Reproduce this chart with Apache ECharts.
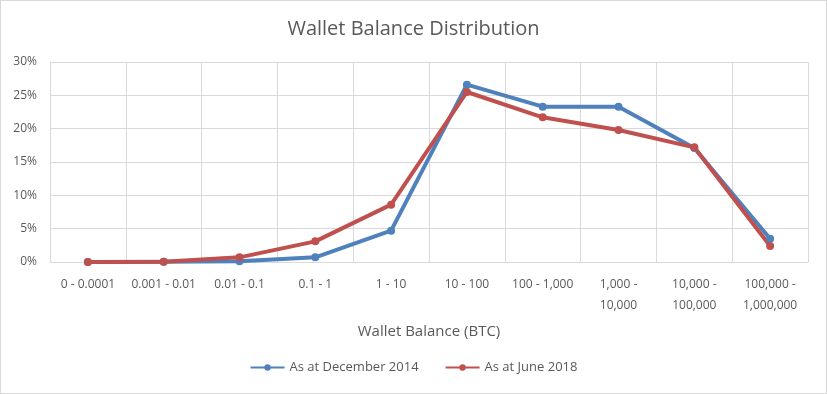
<!DOCTYPE html>
<html><head><meta charset="utf-8">
<script src="https://cdn.jsdelivr.net/npm/echarts@6/dist/echarts.min.js"></script>
<style>html,body{margin:0;padding:0;background:#fff}#c{width:825px;height:392px;border:1px solid #d9d9d9}</style>
</head><body><div id="c"></div>
<script>
const categories = ["0 - 0.0001","0.001 - 0.01","0.01 - 0.1","0.1 - 1","1 - 10","10 - 100","100 - 1,000","1,000 -\n10,000","10,000 -\n100,000","100,000 -\n1,000,000"];
const dec2014 = [0, 0.05, 0.1, 0.7, 4.7, 26.6, 23.3, 23.3, 17.1, 3.5];
const jun2018 = [0, 0.05, 0.7, 3.1, 8.6, 25.5, 21.7, 19.8, 17.2, 2.4];
const yTicks = {min: 0, max: 30, interval: 5};
const font = "'Open Sans', 'Noto Sans', sans-serif";
const chart = echarts.init(document.getElementById('c'));
chart.setOption({
  animation: false,
  title: {text: 'Wallet Balance Distribution', left: 'center', top: 13,
    textStyle: {fontFamily: font, fontSize: 20, fontWeight: 'normal', color: '#595959'}},
  grid: {left: 49, right: 18, top: 61, bottom: 131},
  legend: {bottom: 14, left: 'center', itemWidth: 34, itemHeight: 8, itemGap: 26,
    textStyle: {fontFamily: font, fontSize: 13, color: '#595959'},
    data: ['As at December 2014', 'As at June 2018']},
  xAxis: {type: 'category', data: categories, boundaryGap: true,
    name: 'Wallet Balance (BTC)', nameLocation: 'middle', nameGap: 62,
    nameTextStyle: {fontFamily: font, fontSize: 15, color: '#595959'},
    axisLine: {lineStyle: {color: '#d9d9d9'}}, axisTick: {show: false},
    axisLabel: {interval: 0, margin: 12, fontFamily: font, fontSize: 12, color: '#595959', lineHeight: 21},
    splitLine: {show: true, lineStyle: {color: '#d9d9d9'}}},
  yAxis: {type: 'value', min: yTicks.min, max: yTicks.max, interval: yTicks.interval,
    axisLine: {show: false}, axisTick: {show: false},
    axisLabel: {formatter: '{value}%', margin: 13, fontFamily: font, fontSize: 12, color: '#595959'},
    splitLine: {lineStyle: {color: '#d9d9d9'}}},
  series: [
    {name: 'As at December 2014', type: 'line', data: dec2014, symbol: 'circle', symbolSize: 8,
     lineStyle: {width: 4, color: '#4F81BD'}, itemStyle: {color: '#4F81BD'}},
    {name: 'As at June 2018', type: 'line', data: jun2018, symbol: 'circle', symbolSize: 8,
     lineStyle: {width: 4, color: '#C0504D'}, itemStyle: {color: '#C0504D'}}
  ]
});
</script></body></html>
